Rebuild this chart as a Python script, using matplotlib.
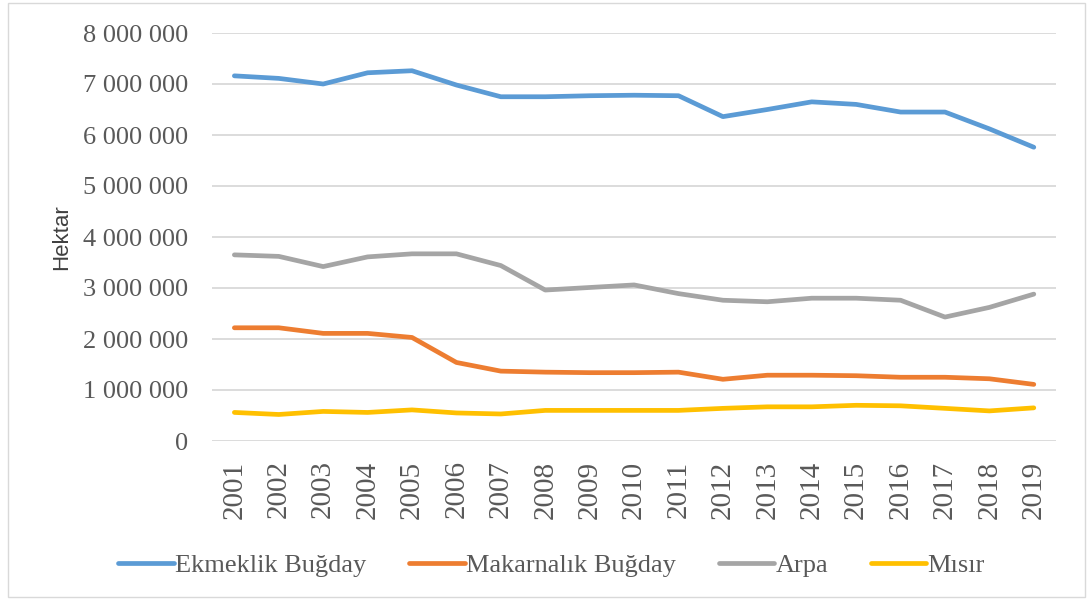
import numpy as np
import matplotlib.pyplot as plt
from matplotlib.patches import Rectangle

# ── veri (grafikten okunan yaklaşık değerler, hektar) ──
years = [str(y) for y in range(2001, 2020)]
ekmeklik = [7160000, 7110000, 7000000, 7220000, 7260000, 6980000, 6750000, 6750000, 6770000,
            6780000, 6770000, 6360000, 6500000, 6650000, 6600000, 6450000, 6450000, 6120000, 5760000]
makarnalik = [2220000, 2220000, 2110000, 2110000, 2030000, 1540000, 1370000, 1350000, 1340000,
              1340000, 1350000, 1210000, 1290000, 1290000, 1280000, 1250000, 1250000, 1220000, 1110000]
arpa = [3650000, 3620000, 3420000, 3610000, 3670000, 3670000, 3440000, 2960000, 3010000,
        3060000, 2890000, 2760000, 2730000, 2800000, 2800000, 2760000, 2430000, 2620000, 2880000]
misir = [560000, 520000, 580000, 560000, 610000, 550000, 530000, 600000, 600000,
         600000, 600000, 640000, 670000, 670000, 700000, 690000, 640000, 590000, 650000]

series = [("Ekmeklik Buğday", ekmeklik, "#5b9bd5"),
          ("Makarnalık Buğday", makarnalik, "#ed7d31"),
          ("Arpa", arpa, "#a5a5a5"),
          ("Mısır", misir, "#ffc000")]

serif = ["Liberation Serif", "DejaVu Serif"]
txt = "#595959"

fig = plt.figure(figsize=(10.88, 6), dpi=100)
ax = fig.add_axes([0.195, 0.265, 0.7756, 0.68])
x = np.arange(len(years))
for name, vals, col in series:
    ax.plot(x, vals, color=col, lw=3.4, label=name, solid_capstyle="round", solid_joinstyle="round")

ax.set_xlim(-0.5, len(years) - 0.5)
ax.set_ylim(0, 8000000)
ticks = np.arange(0, 8000001, 1000000)
ax.set_yticks(ticks)
ax.set_yticklabels([f"{t:,}".replace(",", " ") for t in ticks], family=serif, fontsize=19, color=txt)
ax.set_xticks(x)
ax.set_xticklabels(years, rotation=90, family=serif, fontsize=21, color=txt)
ax.tick_params(length=0)
ax.tick_params(axis="y", pad=17)
ax.tick_params(axis="x", pad=14)
ax.grid(axis="y", color="#d9d9d9", lw=1.3)
ax.set_axisbelow(True)
for s in ax.spines.values():
    s.set_visible(False)
ax.set_ylabel("Hektar", family=["Liberation Sans", "DejaVu Sans"], fontsize=16, color="#404040")
ax.yaxis.set_label_coords(-0.166, 0.5)

fig.legend(loc="center", bbox_to_anchor=(0.507, 0.058), ncol=4, frameon=False,
           prop={"family": serif, "size": 19}, labelcolor=txt,
           handlelength=2.1, handletextpad=0.05, columnspacing=1.62)

fig.patches.append(Rectangle((0.007, 0.005), 0.99, 0.99, transform=fig.transFigure,
                             fill=False, ec="#d9d9d9", lw=1))
fig.savefig("out.png", dpi=100)
